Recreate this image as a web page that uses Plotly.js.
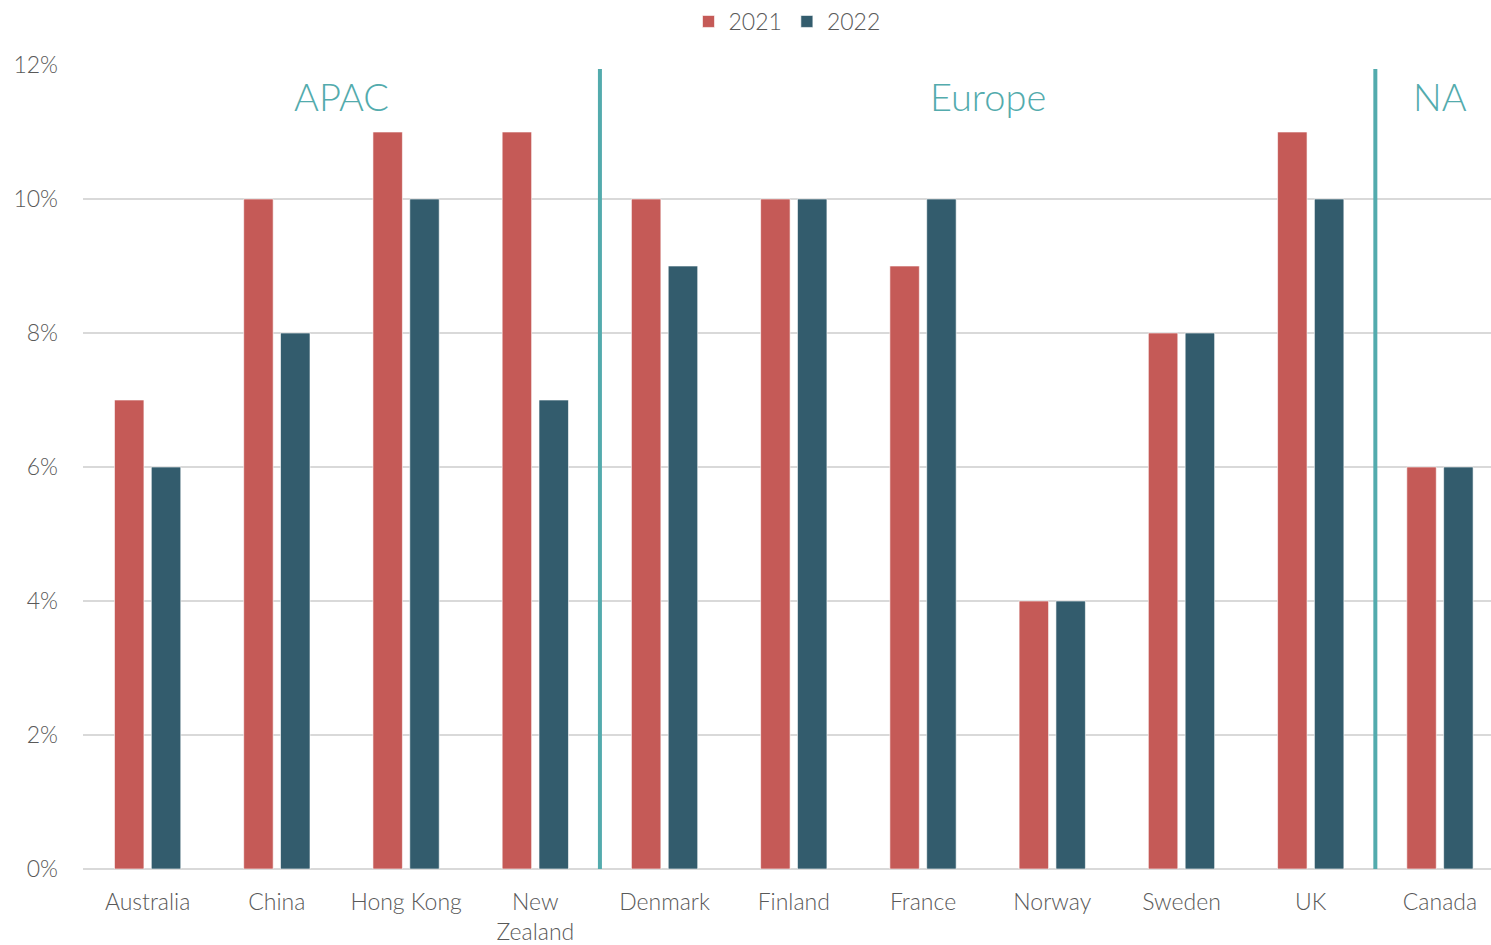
<!DOCTYPE html>
<html>
<head>
<meta charset="utf-8">
<script src="https://cdn.plot.ly/plotly-3.0.1.min.js"></script>
<style>html,body{margin:0;padding:0;background:#fff;}#chart{width:1491px;height:945px;}</style>
</head>
<body>
<div id="chart"></div>
<script>
const categories = ["Australia","China","Hong Kong","New<br>Zealand","Denmark","Finland","France","Norway","Sweden","UK","Canada"];
const values2021 = [0.07,0.10,0.11,0.11,0.10,0.10,0.09,0.04,0.08,0.11,0.06];
const values2022 = [0.06,0.08,0.10,0.07,0.09,0.10,0.10,0.04,0.08,0.10,0.06];
const regions = ["APAC","Europe","NA"];
const regionCenters = [1.5,6.5,10];
const regionDividers = [3.5,9.5];

const FONT = "Lato, 'Open Sans', sans-serif";
const traces = [
  {type:"bar", name:"2021", x:categories.map((c,i)=>i), y:values2021,
   marker:{color:"#C55A57", line:{color:"rgba(255,255,255,0.6)", width:1}}},
  {type:"bar", name:"2022", x:categories.map((c,i)=>i), y:values2022,
   marker:{color:"#335C6D", line:{color:"rgba(255,255,255,0.6)", width:1}}}
];
const layout = {
  width:1491, height:945,
  margin:{l:83, r:0, t:64, b:76},
  paper_bgcolor:"#fff", plot_bgcolor:"#fff",
  barmode:"group", bargap:0.43, bargroupgap:0.2,
  font:{family:FONT, color:"#595959", size:23, weight:300},
  showlegend:true,
  legend:{orientation:"h", x:0.5, xanchor:"center", y:1.0547, yanchor:"middle", yref:"paper",
          font:{size:23, color:"#595959", weight:300}, itemwidth:30, traceorder:"normal", itemclick:false},
  xaxis:{tickmode:"array", tickvals:categories.map((c,i)=>i), ticktext:categories,
         range:[-0.5,10.395], showgrid:false, zeroline:false, showline:false, ticks:"",
         ticklabelstandoff:17,
         tickfont:{size:23, color:"#595959", weight:300}, fixedrange:true},
  yaxis:{range:[0,0.12], dtick:0.02, tickformat:".0%", showgrid:true, gridcolor:"#D9D9D9", gridwidth:2,
         zeroline:true, zerolinecolor:"#D9D9D9", zerolinewidth:2, showline:false, ticks:"",
         ticklabelstandoff:24, tickfont:{size:23, color:"#595959", weight:300}, fixedrange:true},
  shapes: regionDividers.map(x=>({type:"line", xref:"x", yref:"y", x0:x, x1:x, y0:0, y1:0.1194,
         line:{color:"#53ABAD", width:4}})),
  annotations: regions.map((r,i)=>({text:r, xref:"x", yref:"y", x:regionCenters[i], y:0.1154,
         showarrow:false, font:{size:38, color:"#53ABAD", family:FONT, weight:300}}))
};
Plotly.newPlot("chart", traces, layout, {displayModeBar:false, staticPlot:true});
</script>
</body>
</html>
